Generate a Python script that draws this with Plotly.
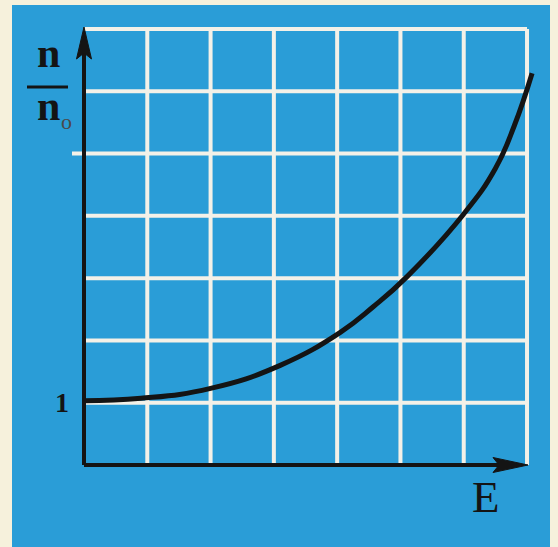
import plotly.graph_objects as go

# ---- data (grid units) ----
e_values = [0, 0.9, 2.0, 3.1, 4.05, 4.57, 5.1, 6.0, 6.5, 6.8, 7.08]
n_ratio = [1.03, 1.07, 1.23, 1.6, 2.13, 2.54, 3.02, 4.03, 4.76, 5.45, 6.29]
grid_x = [1, 2, 3, 4, 5, 6, 7]
grid_y = [1, 2, 3, 4, 5, 6, 7]
y_tick_vals = [1]
y_tick_text = ["1"]
x_label = "E"
y_label_top = "n"

W, H = 558, 547
X0PX, XUNIT = 84.0, 63.29     # pixel of E=0, pixels per grid unit
Y0PX, YUNIT = 465.0, 62.29    # pixel of n/n0=0, pixels per grid unit


def px_x(px):
    return (px - X0PX) / XUNIT


def px_y(py):
    return (Y0PX - py) / YUNIT


BLUE = "#2a9dd7"
CREAM = "#f6f1dc"
GRID = "#f3f1e8"
INK = "#141414"

fig = go.Figure()
fig.add_trace(go.Scatter(
    x=e_values, y=n_ratio, mode="lines",
    line=dict(color=INK, width=5, shape="spline", smoothing=1.3),
    hoverinfo="skip", showlegend=False,
))

shapes = []
# blue plate
shapes.append(dict(type="rect", xref="paper", yref="paper",
                   x0=12 / W, x1=550 / W, y0=0, y1=1 - 5 / H,
                   fillcolor=BLUE, line=dict(width=0), layer="below"))
# grid
for gx in grid_x:
    shapes.append(dict(type="line", x0=gx, x1=gx, y0=0, y1=grid_y[-1],
                       line=dict(color=GRID, width=4), layer="below"))
for gy in grid_y:
    x_start = px_x(72) if gy == 5 else 0
    shapes.append(dict(type="line", x0=x_start, x1=grid_x[-1], y0=gy, y1=gy,
                       line=dict(color=GRID, width=4), layer="below"))
# axes
shapes.append(dict(type="line", x0=0, x1=0, y0=0, y1=px_y(40),
                   line=dict(color=INK, width=4)))
shapes.append(dict(type="line", x0=0, x1=px_x(510), y0=0, y1=0,
                   line=dict(color=INK, width=4)))
# arrow heads
ty, by, ny = px_y(27), px_y(59), px_y(53)
hw = 7.5 / XUNIT
shapes.append(dict(type="path",
                   path=f"M 0,{ty} L {-hw},{by} L 0,{ny} L {hw},{by} Z",
                   fillcolor=INK, line=dict(color=INK, width=1)))
tx, bx, nx = px_x(528), px_x(493), px_x(499)
hh = 7.5 / YUNIT
shapes.append(dict(type="path",
                   path=f"M {tx},0 L {bx},{hh} L {nx},0 L {bx},{-hh} Z",
                   fillcolor=INK, line=dict(color=INK, width=1)))
# fraction bar
shapes.append(dict(type="line", x0=px_x(27), x1=px_x(68), y0=px_y(87), y1=px_y(87),
                   line=dict(color=INK, width=3)))

serif = "Liberation Serif"
annotations = [
    dict(x=px_x(48.5), y=px_y(52.5), text=f"<b>{y_label_top}</b>", showarrow=False,
         font=dict(family=serif, size=42, color=INK), xanchor="center", yanchor="middle"),
    dict(x=px_x(48.5), y=px_y(105.5), text="<b>n</b>", showarrow=False,
         font=dict(family=serif, size=42, color=INK), xanchor="center", yanchor="middle"),
    dict(x=px_x(66), y=px_y(121), text="o", showarrow=False,
         font=dict(family=serif, size=22, color="#4a4a4a"), xanchor="center", yanchor="middle"),
    dict(x=px_x(486), y=px_y(497), text=x_label, showarrow=False,
         font=dict(family=serif, size=45, color=INK), xanchor="center", yanchor="middle"),
]
for v, t in zip(y_tick_vals, y_tick_text):
    annotations.append(dict(x=px_x(61.5), y=v + px_y(402.5) - 1, text=f"<b>{t}</b>",
                            showarrow=False, font=dict(family=serif, size=28, color=INK),
                            xanchor="center", yanchor="middle"))

fig.update_layout(
    width=W, height=H, autosize=False,
    margin=dict(l=0, r=0, t=0, b=0, pad=0),
    paper_bgcolor=CREAM, plot_bgcolor="rgba(0,0,0,0)",
    xaxis=dict(range=[px_x(0), px_x(W)], visible=False, fixedrange=True),
    yaxis=dict(range=[px_y(H), px_y(0)], visible=False, fixedrange=True),
    shapes=shapes, annotations=annotations, showlegend=False,
)

fig.write_html("out.html", config={"displayModeBar": False},
               post_script="document.body.style.margin='0';document.body.style.overflow='hidden';")
